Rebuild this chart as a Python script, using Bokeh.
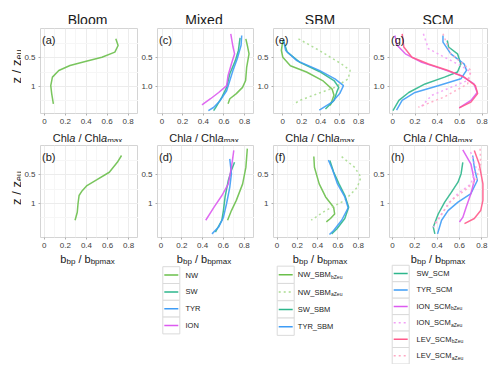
from bokeh.plotting import figure
from bokeh.layouts import row, column
from bokeh.models import Range1d, FixedTicker, CustomJSTickFormatter, Label
from bokeh.core.properties import value
from bokeh.embed import file_html
from bokeh.resources import INLINE

FONT = "Liberation Sans"
TXT = "#1a1a1a"
NB = "\u00a0"

# ---------------- colours ----------------
col_NW = "#6abf4b"
col_NW_light = "#a9db8f"
col_SW = "#2db68c"
col_TYR = "#3e9cf6"
col_ION = "#dc5af0"
col_ION_light = "#f29ff6"
col_LEV = "#ff5a8a"
col_LEV_light = "#ffa8c4"

# ---------------- ticks ----------------
x_ticks = [0, 0.2, 0.4, 0.6, 0.8]
x_minor = [0.1, 0.3, 0.5, 0.7]
z_ticks = [0.5, 1.0]
z_minor = [0.25, 0.75, 1.25]

titles = ["Bloom", "Mixed", "SBM", "SCM"]
tags_top = ["(a)", "(c)", "(e)", "(g)"]
tags_bot = ["(b)", "(d)", "(f)", "(h)"]

# ---------------- data: Chla / Chla_max (top row) ----------------
bloom_chl_NW_x = [0.683, 0.705, 0.674, 0.55, 0.40, 0.245, 0.138, 0.077, 0.061, 0.07, 0.086]
bloom_chl_NW_z = [0.166, 0.283, 0.40, 0.49, 0.56, 0.636, 0.724, 0.84, 0.99, 1.13, 1.31]

mixed_chl_NW_x = [0.812, 0.83, 0.843, 0.82, 0.81, 0.78, 0.72, 0.657, 0.64]
mixed_chl_NW_z = [0.166, 0.31, 0.43, 0.67, 0.90, 1.02, 1.13, 1.22, 1.31]
mixed_chl_SW_x = [0.756, 0.74, 0.71, 0.657, 0.626, 0.58, 0.518, 0.50]
mixed_chl_SW_z = [0.15, 0.37, 0.55, 0.78, 1.02, 1.19, 1.38, 1.43]
mixed_chl_TYR_x = [0.772, 0.766, 0.728, 0.688, 0.657, 0.626, 0.564, 0.502, 0.449]
mixed_chl_TYR_z = [0.107, 0.28, 0.52, 0.72, 0.90, 1.08, 1.25, 1.37, 1.43]
mixed_chl_ION_x = [0.666, 0.688, 0.703, 0.672, 0.64, 0.626, 0.549, 0.47, 0.387]
mixed_chl_ION_z = [0.077, 0.31, 0.43, 0.61, 0.81, 0.99, 1.11, 1.22, 1.33]

sbm_chl_NWb_x = [0.0, -0.015, 0.0, 0.08, 0.25, 0.42, 0.52, 0.54, 0.52, 0.50]
sbm_chl_NWb_z = [0.195, 0.37, 0.49, 0.64, 0.75, 0.90, 1.05, 1.16, 1.25, 1.34]
sbm_chl_NWa_x = [0.165, 0.385, 0.62, 0.71, 0.69, 0.55, 0.32, 0.18, 0.11]
sbm_chl_NWa_z = [0.166, 0.37, 0.61, 0.72, 0.87, 1.02, 1.16, 1.25, 1.32]
sbm_chl_SW_x = [0.006, 0.047, 0.18, 0.385, 0.54, 0.59, 0.57, 0.54, 0.45]
sbm_chl_SW_z = [0.19, 0.40, 0.58, 0.74, 0.90, 1.02, 1.10, 1.25, 1.40]
sbm_chl_TYR_x = [0.006, 0.03, 0.148, 0.385, 0.55, 0.64, 0.60, 0.52, 0.385]
sbm_chl_TYR_z = [0.18, 0.37, 0.55, 0.72, 0.87, 0.99, 1.13, 1.28, 1.42]

scm_chl_SW_x = [0.488, 0.50, 0.58, 0.61, 0.58, 0.464, 0.29, 0.144, 0.056, 0.003]
scm_chl_SW_z = [0.195, 0.31, 0.43, 0.61, 0.75, 0.84, 0.96, 1.11, 1.25, 1.43]
scm_chl_TYR_x = [0.45, 0.45, 0.52, 0.64, 0.66, 0.61, 0.406, 0.20, 0.085, 0.035]
scm_chl_TYR_z = [0.107, 0.225, 0.43, 0.61, 0.72, 0.87, 0.99, 1.11, 1.25, 1.42]
scm_chl_IONb_x = [0.02, 0.04, 0.114, 0.26, 0.435, 0.61, 0.727, 0.756, 0.70, 0.595]
scm_chl_IONb_z = [0.107, 0.28, 0.43, 0.58, 0.69, 0.81, 0.96, 1.11, 1.25, 1.38]
scm_chl_IONa_x = [0.275, 0.32, 0.464, 0.61, 0.70, 0.67, 0.52, 0.35, 0.245]
scm_chl_IONa_z = [0.077, 0.34, 0.49, 0.64, 0.75, 0.90, 1.02, 1.16, 1.38]
scm_chl_LEVb_x = [0.085, 0.10, 0.172, 0.32, 0.49, 0.64, 0.74, 0.76, 0.70, 0.595]
scm_chl_LEVb_z = [0.077, 0.31, 0.49, 0.61, 0.72, 0.84, 0.99, 1.13, 1.28, 1.38]
scm_chl_LEVa_x = [0.45, 0.52, 0.70, 0.67, 0.46, 0.23]
scm_chl_LEVa_z = [0.077, 0.43, 0.72, 0.96, 1.19, 1.37]

# ---------------- data: bbp / bbp_max (bottom row) ----------------
bloom_bbp_NW_x = [0.733, 0.693, 0.617, 0.496, 0.405, 0.36, 0.33, 0.32, 0.313, 0.292]
bloom_bbp_NW_z = [0.16, 0.28, 0.455, 0.59, 0.69, 0.78, 0.865, 1.01, 1.16, 1.30]

mixed_bbp_NW_x = [0.83, 0.816, 0.785, 0.724, 0.677, 0.64]
mixed_bbp_NW_z = [0.04, 0.37, 0.66, 0.95, 1.13, 1.30]
mixed_bbp_SW_x = [0.707, 0.677, 0.647, 0.616, 0.60, 0.585, 0.523]
mixed_bbp_SW_z = [0.28, 0.42, 0.60, 0.89, 1.13, 1.30, 1.51]
mixed_bbp_TYR_x = [0.661, 0.677, 0.661, 0.63, 0.60, 0.554, 0.49]
mixed_bbp_TYR_z = [0.22, 0.48, 0.72, 1.01, 1.25, 1.42, 1.54]
mixed_bbp_ION_x = [0.70, 0.677, 0.647, 0.587, 0.51, 0.43]
mixed_bbp_ION_z = [0.07, 0.37, 0.66, 0.86, 1.07, 1.30]

sbm_bbp_NWb_x = [0.362, 0.368, 0.415, 0.478, 0.557, 0.567, 0.526, 0.485]
sbm_bbp_NWb_z = [0.178, 0.366, 0.66, 0.89, 1.07, 1.19, 1.27, 1.33]
sbm_bbp_NWa_x = [0.636, 0.762, 0.826, 0.79, 0.667, 0.478, 0.336]
sbm_bbp_NWa_z = [0.18, 0.366, 0.54, 0.72, 0.95, 1.13, 1.30]
sbm_bbp_SW_x = [0.52, 0.557, 0.61, 0.667, 0.705, 0.667, 0.59, 0.537]
sbm_bbp_SW_z = [0.25, 0.45, 0.66, 0.86, 1.07, 1.27, 1.45, 1.54]
sbm_bbp_TYR_x = [0.505, 0.548, 0.595, 0.667, 0.70, 0.636, 0.557, 0.516]
sbm_bbp_TYR_z = [0.24, 0.42, 0.66, 0.89, 1.08, 1.30, 1.48, 1.55]

scm_bbp_SW_x = [0.63, 0.615, 0.587, 0.527, 0.468, 0.41, 0.366, 0.38]
scm_bbp_SW_z = [0.28, 0.48, 0.63, 0.81, 0.98, 1.19, 1.42, 1.54]
scm_bbp_TYR_x = [0.718, 0.733, 0.76, 0.703, 0.587, 0.498, 0.44, 0.404]
scm_bbp_TYR_z = [0.16, 0.366, 0.60, 0.83, 0.98, 1.13, 1.30, 1.54]
scm_bbp_IONb_x = [0.63, 0.703, 0.733, 0.703, 0.66, 0.63, 0.60]
scm_bbp_IONb_z = [0.06, 0.31, 0.60, 0.83, 1.07, 1.25, 1.33]
scm_bbp_IONa_x = [0.70, 0.747, 0.703, 0.587, 0.498, 0.425, 0.366]
scm_bbp_IONa_z = [0.10, 0.366, 0.66, 0.83, 1.01, 1.25, 1.42]
scm_bbp_LEVb_x = [0.733, 0.777, 0.81, 0.81, 0.79, 0.733, 0.645]
scm_bbp_LEVb_z = [0.07, 0.31, 0.66, 0.95, 1.13, 1.27, 1.36]
scm_bbp_LEVa_x = [0.785, 0.79, 0.747, 0.645, 0.527, 0.44, 0.38]
scm_bbp_LEVa_z = [0.04, 0.31, 0.60, 0.78, 0.95, 1.19, 1.36]

# legend content
leg1_names = ["NW", "SW", "TYR", "ION"]
leg1_subs = ["", "", "", ""]
leg1_cols = [col_NW, col_SW, col_TYR, col_ION]
leg1_dash = ["solid", "solid", "solid", "solid"]
leg2_names = ["NW_SBM", "NW_SBM", "SW_SBM", "TYR_SBM"]
leg2_subs = ["bZeu", "aZeu", "", ""]
leg2_cols = [col_NW, col_NW_light, col_SW, col_TYR]
leg2_dash = ["solid", "dotted", "solid", "solid"]
leg3_names = ["SW_SCM", "TYR_SCM", "ION_SCM", "ION_SCM", "LEV_SCM", "LEV_SCM"]
leg3_subs = ["", "", "bZeu", "aZeu", "bZeu", "aZeu"]
leg3_cols = [col_SW, col_TYR, col_ION, col_ION_light, col_LEV, col_LEV_light]
leg3_dash = ["solid", "solid", "solid", "dotted", "solid", "dotted"]

DOT = "2 3"

# ---------------- text helpers ----------------
_W = {' ': 278, NB: 278, '/': 278, '(': 333, ')': 333, '_': 556, '.': 278,
      'A': 667, 'B': 667, 'C': 722, 'D': 722, 'E': 667, 'I': 278, 'L': 556, 'M': 833,
      'N': 722, 'O': 778, 'R': 722, 'S': 667, 'T': 611, 'V': 667, 'W': 944, 'Y': 667, 'Z': 611,
      'a': 556, 'b': 556, 'c': 500, 'e': 556, 'h': 556, 'l': 222, 'm': 833, 'p': 556,
      'u': 556, 'x': 500, 'z': 500}


def tw(s, size):
    return sum(_W.get(ch, 556) for ch in s) / 1000.0 * size


def put_text(p, x, y, t, size, italic=False, angle=0.0, baseline="alphabetic", color=TXT):
    p.text(x=[x], y=[y], text=[t], angle=angle, text_font=value(FONT),
           text_font_size=f"{size}px", text_font_style="italic" if italic else "normal",
           text_baseline=baseline, text_align="left", text_color=color)


def rich(p, segs, x, y, align="left", rotated=False):
    # horizontal strips: pixel data coords with y pointing down
    # rotated (left strip): pixel data coords with y pointing up
    total = sum(tw(t, sz) for t, sz, it, dy in segs)
    pos = -total / 2.0 if align == "center" else 0.0
    for t, sz, it, dy in segs:
        if rotated:
            put_text(p, x + dy, y + pos, t, sz, it, angle=1.5707963267948966)
        else:
            put_text(p, x + pos, y + dy, t, sz, it)
        pos += tw(t, sz)


xlab_chl = [("Chl", 11, False, 0), ("a", 11, True, 0), (NB + "/" + NB + "Chl", 11, False, 0),
            ("a", 11, True, 0), ("max", 8, False, 2)]
xlab_bbp = [("b", 11, False, 0), ("bp", 8, False, 2.5), (NB + "/" + NB + "b", 11, False, 0),
            ("bpmax", 8, False, 2.5)]
ylab_z = [("z" + NB + "/" + NB + "z", 13, False, 0), ("eu", 9, False, 2.5)]

# ---------------- geometry ----------------
LS_W = 21
col_left = [15, 15, 15, 17]
col_fw = [102, 101, 101, 101]
MAIN_W = sum(col_left) + sum(col_fw)
TITLE_H = 24
TOP_BT, top_h = 4, 85
BOT_BT, bot_h = 3, 92
AX_B = 13
CHL_H = 16
BOTTOM_H = 114
TOTAL_H = TITLE_H + TOP_BT + top_h + AX_B + CHL_H + BOT_BT + bot_h + AX_B + BOTTOM_H

centers = []
_acc = 0
for _l, _w in zip(col_left, col_fw):
    centers.append(_acc + _l + _w / 2.0)
    _acc += _l + _w

xr_top = [(-0.037, 0.90), (-0.044, 0.896), (-0.098, 0.925), (-0.028, 0.857)]
xr_bot = [(-0.036, 0.894), (-0.034, 0.899), (-0.035, 0.92), (-0.026, 0.86)]
zr_top = (1.48, -0.016)
zr_bot = (1.604, -0.016)


def strip(width, height, y_down=True):
    yr = Range1d(height, 0) if y_down else Range1d(0, height)
    p = figure(width=width, height=height, x_range=Range1d(0, width), y_range=yr,
               x_axis_location=None, y_axis_location=None, toolbar_location=None,
               output_backend="svg", min_border=0)
    p.grid.visible = False
    p.outline_line_color = None
    p.background_fill_color = "white"
    p.border_fill_color = "white"
    return p


def make_panel(ci, top):
    fh = top_h if top else bot_h
    bt = TOP_BT if top else BOT_BT
    xr = xr_top[ci] if top else xr_bot[ci]
    zr = zr_top if top else zr_bot
    p = figure(width=col_left[ci] + col_fw[ci], height=bt + fh + AX_B,
               x_range=Range1d(*xr), y_range=Range1d(*zr),
               output_backend="svg", toolbar_location=None,
               min_border_left=col_left[ci], min_border_right=0,
               min_border_top=bt, min_border_bottom=AX_B)
    p.background_fill_color = "white"
    p.border_fill_color = "white"
    p.outline_line_color = "#d4d4d4"
    p.outline_line_width = 1
    p.xaxis.ticker = FixedTicker(ticks=x_ticks, minor_ticks=x_minor)
    p.yaxis.ticker = FixedTicker(ticks=z_ticks, minor_ticks=z_minor)
    p.xaxis.formatter = CustomJSTickFormatter(code="return tick == 0 ? '0' : tick.toFixed(1);")
    if top and ci > 0:
        p.yaxis.formatter = CustomJSTickFormatter(code="return tick.toFixed(1);")
    else:
        p.yaxis.formatter = CustomJSTickFormatter(code="return tick == 1 ? '1' : tick.toFixed(1);")
    for ax in (p.xaxis[0], p.yaxis[0]):
        ax.axis_line_color = None
        ax.major_tick_line_color = "#b0b0b0"
        ax.major_tick_out = 2
        ax.major_tick_in = 0
        ax.minor_tick_line_color = None
        ax.major_label_text_font = FONT
        ax.major_label_text_font_size = "8px"
        ax.major_label_text_color = "#404040"
        ax.major_label_standoff = 1
    p.xgrid.grid_line_color = "#ececec"
    p.ygrid.grid_line_color = "#ececec"
    p.xgrid.minor_grid_line_color = "#f6f6f6"
    p.ygrid.minor_grid_line_color = "#f6f6f6"
    tag = tags_top[ci] if top else tags_bot[ci]
    p.add_layout(Label(x=1.5, y=fh - 11, x_units="screen", y_units="screen", text=tag,
                       text_align="left", text_baseline="alphabetic", text_font=FONT,
                       text_font_size="11px", text_color=TXT))
    return p


def add(p, xs, zs, color, dash="solid", alpha=0.9):
    p.line(xs, zs, line_color=color, line_width=1.5, line_alpha=alpha, line_dash=dash)


pa = make_panel(0, True)
add(pa, bloom_chl_NW_x, bloom_chl_NW_z, col_NW)

pc = make_panel(1, True)
add(pc, mixed_chl_NW_x, mixed_chl_NW_z, col_NW)
add(pc, mixed_chl_SW_x, mixed_chl_SW_z, col_SW)
add(pc, mixed_chl_TYR_x, mixed_chl_TYR_z, col_TYR)
add(pc, mixed_chl_ION_x, mixed_chl_ION_z, col_ION)

pe = make_panel(2, True)
add(pe, sbm_chl_NWb_x, sbm_chl_NWb_z, col_NW)
add(pe, sbm_chl_NWa_x, sbm_chl_NWa_z, col_NW_light, DOT)
add(pe, sbm_chl_SW_x, sbm_chl_SW_z, col_SW)
add(pe, sbm_chl_TYR_x, sbm_chl_TYR_z, col_TYR)

pg = make_panel(3, True)
add(pg, scm_chl_SW_x, scm_chl_SW_z, col_SW)
add(pg, scm_chl_TYR_x, scm_chl_TYR_z, col_TYR)
add(pg, scm_chl_IONb_x, scm_chl_IONb_z, col_ION)
add(pg, scm_chl_IONa_x, scm_chl_IONa_z, col_ION_light, DOT)
add(pg, scm_chl_LEVb_x, scm_chl_LEVb_z, col_LEV)
add(pg, scm_chl_LEVa_x, scm_chl_LEVa_z, col_LEV_light, DOT)

pb = make_panel(0, False)
add(pb, bloom_bbp_NW_x, bloom_bbp_NW_z, col_NW)

pd = make_panel(1, False)
add(pd, mixed_bbp_NW_x, mixed_bbp_NW_z, col_NW)
add(pd, mixed_bbp_SW_x, mixed_bbp_SW_z, col_SW)
add(pd, mixed_bbp_TYR_x, mixed_bbp_TYR_z, col_TYR)
add(pd, mixed_bbp_ION_x, mixed_bbp_ION_z, col_ION)

pf = make_panel(2, False)
add(pf, sbm_bbp_NWb_x, sbm_bbp_NWb_z, col_NW)
add(pf, sbm_bbp_NWa_x, sbm_bbp_NWa_z, col_NW_light, DOT)
add(pf, sbm_bbp_SW_x, sbm_bbp_SW_z, col_SW)
add(pf, sbm_bbp_TYR_x, sbm_bbp_TYR_z, col_TYR)

ph = make_panel(3, False)
add(ph, scm_bbp_SW_x, scm_bbp_SW_z, col_SW)
add(ph, scm_bbp_TYR_x, scm_bbp_TYR_z, col_TYR)
add(ph, scm_bbp_IONb_x, scm_bbp_IONb_z, col_ION)
add(ph, scm_bbp_IONa_x, scm_bbp_IONa_z, col_ION_light, DOT)
add(ph, scm_bbp_LEVb_x, scm_bbp_LEVb_z, col_LEV)
add(ph, scm_bbp_LEVa_x, scm_bbp_LEVa_z, col_LEV_light, DOT)

# ---------------- text strips ----------------
title_strip = strip(MAIN_W, TITLE_H)
for cx, t in zip(centers, titles):
    title_strip.text(x=[cx], y=[19.3], text=[t], text_font=value(FONT), text_font_size="14px",
                     text_align="center", text_baseline="alphabetic", text_color=TXT)

chl_strip = strip(MAIN_W, CHL_H)
for cx in centers:
    rich(chl_strip, xlab_chl, cx, 11.5, align="center")

left_strip = strip(LS_W, TOTAL_H, y_down=False)
_top_mid = TITLE_H + TOP_BT + top_h / 2.0 - 4.5
_bot_mid = TITLE_H + TOP_BT + top_h + AX_B + CHL_H + BOT_BT + bot_h / 2.0 - 3.5
rich(left_strip, ylab_z, 15.5, TOTAL_H - _top_mid, align="center", rotated=True)
rich(left_strip, ylab_z, 15.5, TOTAL_H - _bot_mid, align="center", rotated=True)

bottom_strip = strip(MAIN_W, BOTTOM_H)
for cx in centers:
    rich(bottom_strip, xlab_bbp, cx, 8.3, align="center")


def draw_legend(p, names, subs, cols, dashes, key_x0, text_x0, row0, step):
    for i, (nm, sb, c, d) in enumerate(zip(names, subs, cols, dashes)):
        yc = row0 + i * step
        p.rect(x=[key_x0 + 8.5], y=[yc], width=17, height=step, fill_color="white",
               line_color="#dadada", line_width=1)
        p.line([key_x0 + 1.5, key_x0 + 15.5], [yc, yc], line_color=c, line_width=1.5,
               line_dash=DOT if d == "dotted" else "solid")
        put_text(p, text_x0, yc, nm, 7.5, baseline="middle", color="#222222")
        if sb:
            put_text(p, text_x0 + tw(nm, 7.5) + 0.3, yc + 2, sb, 5, baseline="middle",
                     color="#222222")


draw_legend(bottom_strip, leg1_names, leg1_subs, leg1_cols, leg1_dash, 141.3, 164.0, 24.6, 16.8)
draw_legend(bottom_strip, leg2_names, leg2_subs, leg2_cols, leg2_dash, 255.7, 276.3, 24.3, 17.3)
draw_legend(bottom_strip, leg3_names, leg3_subs, leg3_cols, leg3_dash, 370.7, 395.0, 23.0, 16.45)

layout = row(
    left_strip,
    column(
        title_strip,
        row(pa, pc, pe, pg, spacing=0),
        chl_strip,
        row(pb, pd, pf, ph, spacing=0),
        bottom_strip,
        spacing=0,
    ),
    spacing=0,
)

open("out.html", "w").write(file_html(layout, INLINE))
